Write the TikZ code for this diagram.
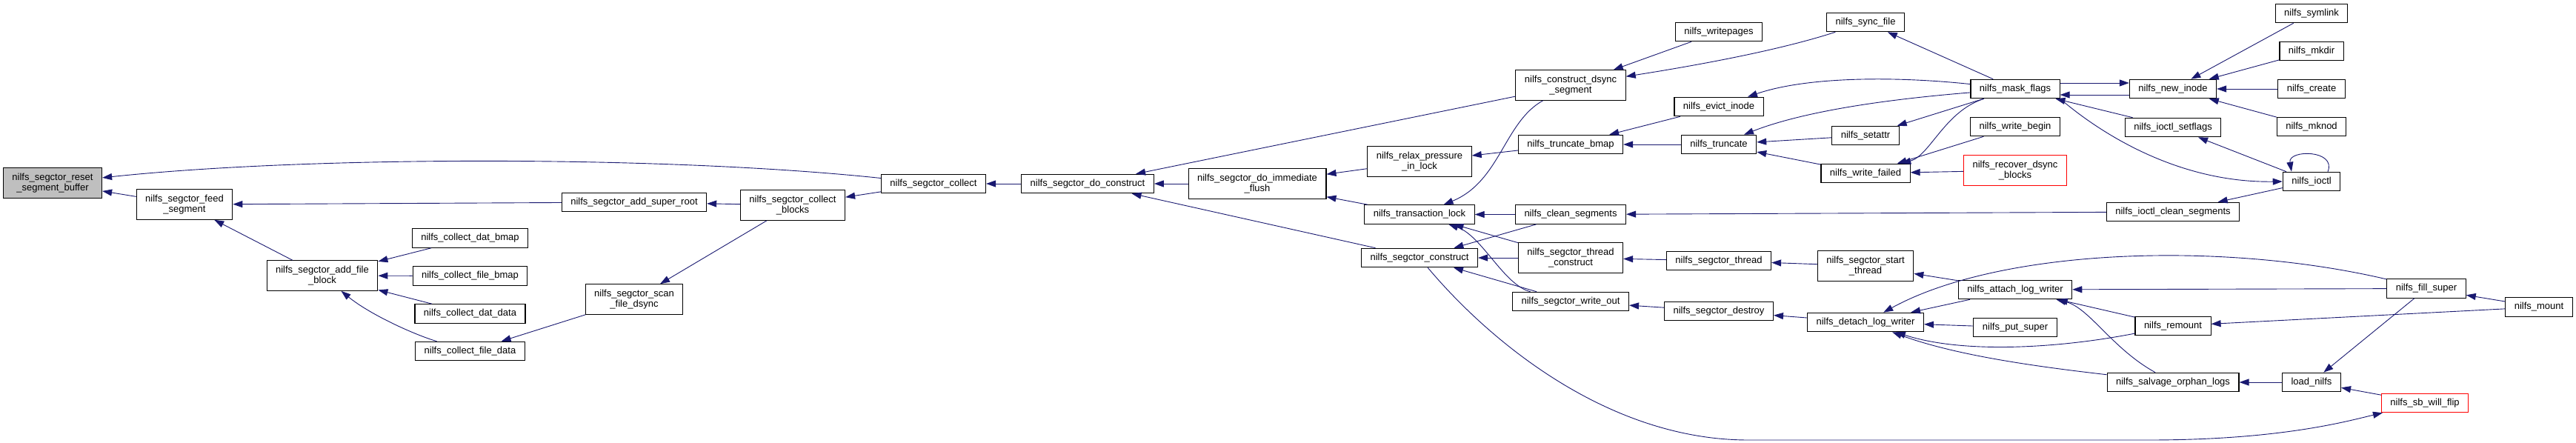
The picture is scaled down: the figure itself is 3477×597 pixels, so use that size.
\documentclass[tikz,border=0pt]{standalone}
\usepackage{fontspec}
\setsansfont{Liberation Sans}
\usetikzlibrary{arrows.meta,positioning}
\usepackage{xcolor}
\definecolor{edgeblue}{HTML}{191970}

\begin{document}
\begin{tikzpicture}[x=1pt,y=-1pt,>={Triangle[length=13pt,width=9pt]},
  func/.style={draw=black, line width=1.1pt, fill=white, inner xsep=12pt, inner ysep=0pt,
    minimum height=25.5pt, align=center, font=\sffamily\fontsize{13}{14}\selectfont},
  tall/.style={func, minimum height=40.5pt},
  focus/.style={fill=black!25},
  cut/.style={draw=red},
  call/.style={->, draw=edgeblue, line width=0.9pt}]
  \useasboundingbox (0,0) rectangle (3477,597);

  % Segment buffer side
  \node (reset) [tall, focus] at (71,247) {nilfs\_segctor\_reset\\\_segment\_buffer};
  \node (feed) [tall] at (249,276) {nilfs\_segctor\_feed\\\_segment};
  \node (addfile) [tall] at (435,372) {nilfs\_segctor\_add\_file\\\_block};
  \node (datbmap) [func] at (634.5,321.5) {nilfs\_collect\_dat\_bmap};
  \node (filebmap) [func] at (634.5,372.5) {nilfs\_collect\_file\_bmap};
  \node (datdata) [func] at (634.5,423.5) {nilfs\_collect\_dat\_data};
  \node (filedata) [func] at (634.5,474) {nilfs\_collect\_file\_data};
  \node (superroot) [func] at (856,273) {nilfs\_segctor\_add\_super\_root};
  \node (scandsync) [tall] at (856,404) {nilfs\_segctor\_scan\\\_file\_dsync};
  \node (collblocks) [tall] at (1070,277) {nilfs\_segctor\_collect\\\_blocks};
  \node (collect) [func] at (1260,248) {nilfs\_segctor\_collect};
  \node (doconstr) [func] at (1468,248) {nilfs\_segctor\_do\_construct};
  \node (immflush) [tall] at (1697,248) {nilfs\_segctor\_do\_immediate\\\_flush};

  % Construction and locking
  \node (relax) [tall] at (1916,218) {nilfs\_relax\_pressure\\\_in\_lock};
  \node (translock) [func] at (1916,289.5) {nilfs\_transaction\_lock};
  \node (construct) [func] at (1916,348) {nilfs\_segctor\_construct};
  \node (dsyncseg) [tall] at (2120,115) {nilfs\_construct\_dsync\\\_segment};
  \node (truncbmap) [func] at (2120,195) {nilfs\_truncate\_bmap};
  \node (cleanseg) [func] at (2120,289.5) {nilfs\_clean\_segments};
  \node (threadcons) [tall] at (2120,348) {nilfs\_segctor\_thread\\\_construct};
  \node (writeout) [func] at (2120,407) {nilfs\_segctor\_write\_out};
  \node (writepages) [func] at (2320,43) {nilfs\_writepages};
  \node (evict) [func] at (2320,144) {nilfs\_evict\_inode};
  \node (truncate) [func] at (2320,195) {nilfs\_truncate};
  \node (segthread) [func] at (2320,352) {nilfs\_segctor\_thread};
  \node (destroy) [func] at (2320,420) {nilfs\_segctor\_destroy};

  % Inode and super block callers
  \node (syncfile) [func] at (2518,30) {nilfs\_sync\_file};
  \node (setattr) [func] at (2518,183) {nilfs\_setattr};
  \node (writefailed) [func] at (2518,234) {nilfs\_write\_failed};
  \node (startthread) [tall] at (2518,359) {nilfs\_segctor\_start\\\_thread};
  \node (detach) [func] at (2518,435) {nilfs\_detach\_log\_writer};
  \node (maskflags) [func] at (2720,120) {nilfs\_mask\_flags};
  \node (writebegin) [func] at (2720,171) {nilfs\_write\_begin};
  \node (recover) [tall, cut] at (2720,230) {nilfs\_recover\_dsync\\\_blocks};
  \node (attach) [func] at (2720,391) {nilfs\_attach\_log\_writer};
  \node (putsuper) [func] at (2720,442) {nilfs\_put\_super};
  \node (newinode) [func] at (2933,120) {nilfs\_new\_inode};
  \node (setflags) [func] at (2933,172) {nilfs\_ioctl\_setflags};
  \node (ioctlclean) [func] at (2933,286) {nilfs\_ioctl\_clean\_segments};
  \node (remount) [func] at (2933,440) {nilfs\_remount};
  \node (salvage) [func] at (2933,516) {nilfs\_salvage\_orphan\_logs};
  \node (symlink) [func] at (3120,18) {nilfs\_symlink};
  \node (mkdir) [func] at (3120,69) {nilfs\_mkdir};
  \node (create) [func] at (3120,120) {nilfs\_create};
  \node (mknod) [func] at (3120,171) {nilfs\_mknod};
  \node (ioctl) [func] at (3120,245) {nilfs\_ioctl};
  \node (loadnilfs) [func] at (3120,516) {load\_nilfs};
  \node (fillsuper) [func] at (3275,389.5) {nilfs\_fill\_super};
  \node (sbflip) [func, cut] at (3273,544) {nilfs\_sb\_will\_flip};
  \node (mount) [func] at (3427,414.5) {nilfs\_mount};

  % Calls into the segment buffer code
  \draw[call] (collect) .. controls (900,210) and (420,210) .. (reset);
  \draw[call] (feed) -- (reset);
  \draw[call] (superroot) -- (feed);
  \draw[call] (addfile) -- (feed);
  \draw[call] (datbmap) -- (addfile);
  \draw[call] (filebmap) -- (addfile);
  \draw[call] (datdata) -- (addfile);
  \draw[call] (filedata) .. controls (560,452) and (500,425) .. (addfile);
  \draw[call] (scandsync) -- (filedata);
  \draw[call] (collblocks) -- (superroot);
  \draw[call] (collblocks) -- (scandsync);
  \draw[call] (collect) -- (collblocks);
  \draw[call] (doconstr) -- (collect);
  \draw[call] (dsyncseg) -- (doconstr);
  \draw[call] (immflush) -- (doconstr);
  \draw[call] (construct) -- (doconstr);
  \draw[call] (relax) -- (immflush);
  \draw[call] (translock) -- (immflush);
  \draw[call] (truncbmap) -- (relax);

  % Locking and construction
  \draw[call] (dsyncseg) .. controls (2030,165) and (2025,245) .. (translock);
  \draw[call] (cleanseg) -- (translock);
  \draw[call] (threadcons) -- (translock);
  \draw[call] (writeout) .. controls (2030,385) and (2000,318) .. (translock);
  \draw[call] (cleanseg) -- (construct);
  \draw[call] (threadcons) -- (construct);
  \draw[call] (writeout) -- (construct);
  \draw[call] (construct) .. controls (2010,460) and (2170,594) .. (2360,594) -- (2900,594)
    .. controls (3080,594) and (3170,568) .. (sbflip);
  \draw[call] (writepages) -- (dsyncseg);
  \draw[call] (syncfile) .. controls (2420,62) and (2330,82) .. (dsyncseg);
  \draw[call] (evict) -- (truncbmap);
  \draw[call] (truncate) -- (truncbmap);

  % mask flags and inode operations
  \draw[call] (maskflags) .. controls (2560,103) and (2440,103) .. (evict);
  \draw[call] (maskflags) .. controls (2560,133) and (2440,148) .. (truncate);
  \draw[call] (maskflags) -- (setattr);
  \draw[call] (maskflags) .. controls (2625,150) and (2605,210) .. (writefailed);
  \draw[call] (setattr) -- (truncate);
  \draw[call] (writefailed) -- (truncate);
  \draw[call] (writebegin) -- (writefailed);
  \draw[call] (recover) -- (writefailed);
  \draw[call] (maskflags) -- (syncfile);
  \draw[call] ([yshift=8pt]maskflags.east) -- ([yshift=8pt]newinode.west);
  \draw[call] ([yshift=-8pt]newinode.west) -- ([yshift=-8pt]maskflags.east);
  \draw[call] (setflags) -- (maskflags);
  \draw[call] (maskflags.south east) .. controls (2835,180) and (2940,247) .. (ioctl.west);
  \draw[call] (symlink) -- (newinode);
  \draw[call] (mkdir) -- (newinode);
  \draw[call] (create) -- (newinode);
  \draw[call] (mknod) -- (newinode);
  \draw[call] (ioctl) -- (setflags);
  \draw[call] ([xshift=22pt]ioctl.north) .. controls +(12,-30) and +(-5,-30) .. ([xshift=-27pt]ioctl.north);
  \draw[call] (ioctlclean) -- (cleanseg);
  \draw[call] (ioctl) -- (ioctlclean);

  % Log writer thread
  \draw[call] (segthread) -- (threadcons);
  \draw[call] (startthread) -- (segthread);
  \draw[call] (attach) -- (startthread);
  \draw[call] (destroy) -- (writeout);
  \draw[call] (detach) -- (destroy);
  \draw[call] (attach) -- (detach);
  \draw[call] (putsuper) -- (detach);
  \draw[call] (fillsuper) .. controls (3000,325) and (2700,335) .. (detach);
  \draw[call] (remount) .. controls (2780,470) and (2650,478) .. (detach);
  \draw[call] (salvage) .. controls (2750,495) and (2640,480) .. (detach);
  \draw[call] (fillsuper) -- (attach);
  \draw[call] (remount) -- (attach);
  \draw[call] (salvage) .. controls (2850,470) and (2820,415) .. (attach);
  \draw[call] (mount) -- (remount);
  \draw[call] (mount) -- (fillsuper);
  \draw[call] (loadnilfs) -- (salvage);
  \draw[call] (fillsuper) -- (loadnilfs);
  \draw[call] (sbflip) -- (loadnilfs);
\end{tikzpicture}
\end{document}
